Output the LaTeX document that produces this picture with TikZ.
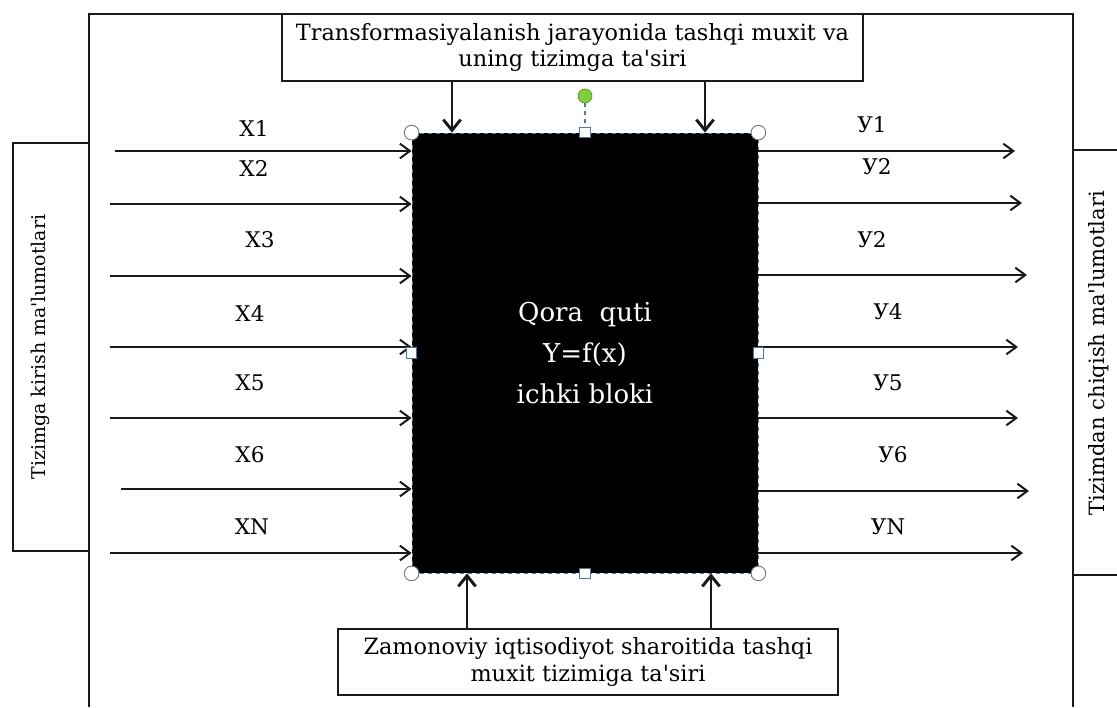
\documentclass[tikz,border=0pt]{standalone}
\usepackage{fontspec}
\setmainfont{DejaVu Serif}[Ligatures=TeXOff]
\usetikzlibrary{positioning,arrows.meta}
\definecolor{bbHandle}{RGB}{79,120,160}
\definecolor{bbRing}{RGB}{120,120,120}
\definecolor{bbGreen}{RGB}{125,208,60}
\definecolor{bbInk}{RGB}{25,25,25}
\tikzset{
	bbFrame/.style={
		draw=bbInk,
		line width=2pt
	},
	bbBox/.style={
		draw=bbInk,
		line width=2pt,
		fill=white,
		align=center,
		inner sep=0pt,
		font=\fontsize{16.8}{20.2}\selectfont
	},
	bbBlack/.style={
		fill=black,
		draw=bbHandle,
		dashed,
		line width=0.6pt,
		text=white,
		align=center,
		font=\fontsize{19.5}{30.75}\selectfont
	},
	bbSide/.style={draw=bbInk, line width=2pt, inner sep=0pt},
	bbSideText/.style={rotate=90, inner sep=0pt},
	bbSig/.style={inner sep=0pt, font=\fontsize{16.2}{18}\selectfont},
	bbFlow/.style={-{Straight Barb[length=7.5pt, width=11pt, line width=1.5pt]}, line width=1.5pt, draw=bbInk},
	bbPush/.style={-{Straight Barb[length=8pt, width=13pt, line width=2.2pt]}, line width=2.2pt, draw=bbInk},
	bbCorner/.style={circle, draw=bbRing, fill=white, line width=0.7pt, minimum size=11pt, inner sep=0pt},
	bbMid/.style={rectangle, draw=bbHandle, fill=white, line width=0.7pt, minimum size=8pt, inner sep=0pt},
	bbRot/.style={circle, draw=bbGreen!70!black, fill=bbGreen, line width=0.5pt, minimum size=10.5pt, inner sep=0pt},
	bbRotLine/.style={draw=bbHandle, dashed, line width=0.8pt}
}

\begin{document}
\begin{tikzpicture}[x=0.75pt, y=-0.75pt]

	\useasboundingbox (0,0) rectangle (1117,707);
	\clip (0,0) rectangle (1117,707);

	% Outer frame
	\draw[bbFrame] (89,707) -- (89,14) -- (1073,14) -- (1073,707);

	% Environment boxes
	\node[bbBox, minimum width=435.75pt, minimum height=50.25pt] (envTop) at (572.5,47.5)
	{Transformasiyalanish jarayonida tashqi muxit va\\uning tizimga ta'siri};
	\node[bbBox, minimum width=375pt, minimum height=49.5pt] (envBot) at (588,662)
	{Zamonoviy iqtisodiyot sharoitida tashqi\\muxit tizimiga ta'siri};

	% Side boxes
	\node[bbSide, minimum width=57pt, minimum height=306pt] (inBox) at (51,347) {};
	\node[bbSideText, font=\fontsize{14.2}{16}\selectfont] (inText) at (40,347) {Tizimga kirish ma'lumotlari};
	\node[bbSide, minimum width=46.5pt, minimum height=318.75pt] (outBox) at (1104,362.5) {};
	\node[bbSideText, font=\fontsize{15.8}{16}\selectfont] (outText) at (1099,353) {Tizimdan chiqish ma'lumotlari};

	% Black box
	\node[bbBlack, minimum width=259.5pt, minimum height=330pt] (quti) at (585,353)
	{Qora\ \ quti\\Y=f(x)\\ichki bloki};

	% Inputs
	\foreach \i/\y/\xs/\lx/\ly/\txt in {1/151/115/254/128/X1, 2/204/110/254/168/X2,
		3/276/110/260/240/X3, 4/347/110/250/313/X4, 5/418/110/250/383/X5,
		6/489/121/250/455/X6, 7/553/110/252/527/XN}{
		\coordinate (in\i) at (\xs,\y);
		\draw[bbFlow] (in\i) -- (in\i -| quti.west);
		\node[bbSig] (inSig\i) at (\lx,\ly) {\txt};
	}

	% Outputs
	\foreach \i/\y/\xe/\lx/\ly/\txt in {1/151/1015/872/125/У1, 2/203/1022/877/167/У2,
		3/275/1027/872/240/У2, 4/347/1018/888/312/У4, 5/418/1018/888/383/У5,
		6/491/1029/893/455/У6, 7/553/1023/888/527/УN}{
		\coordinate (out\i) at (\xe,\y);
		\draw[bbFlow] (out\i -| quti.east) -- (out\i);
		\node[bbSig] (outSig\i) at (\lx,\ly) {\txt};
	}

	% Environment influence
	\coordinate (tA) at (452,0);
	\coordinate (tB) at (705,0);
	\coordinate (bA) at (467,0);
	\coordinate (bB) at (711,0);
	\draw[bbPush] (tA |- envTop.south) -- (tA |- quti.north);
	\draw[bbPush] (tB |- envTop.south) -- (tB |- quti.north);
	\draw[bbPush] (bA |- envBot.north) -- (bA |- quti.south);
	\draw[bbPush] (bB |- envBot.north) -- (bB |- quti.south);

	% Handles
	\foreach \c in {north west, north east, south west, south east}
		\node[bbCorner] at (quti.\c) {};
	\foreach \s/\n in {north/hN, south/hS, east/hE, west/hW}
		\node[bbMid] (\n) at (quti.\s) {};
	\node[bbRot] (rot) at (585,96) {};
	\draw[bbRotLine] (rot) -- (hN);

\end{tikzpicture}
\end{document}
